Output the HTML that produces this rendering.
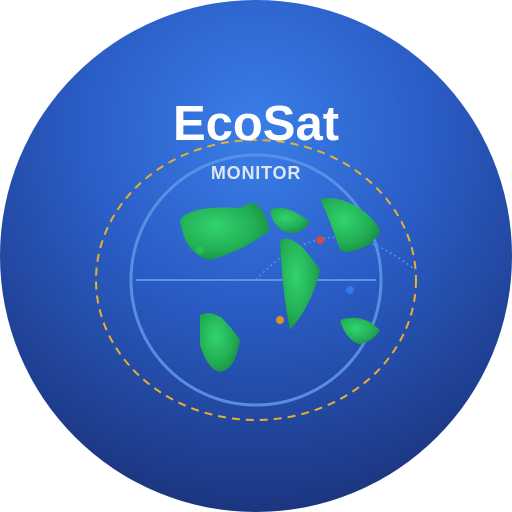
<!DOCTYPE html>
<html><head><style>html,body{margin:0;padding:0;background:#fff}svg{display:block}</style></head>
<body>
<svg width="512" height="512" viewBox="0 0 512 512" xmlns="http://www.w3.org/2000/svg">
<defs>
<radialGradient id="bg" cx="256" cy="130" r="400" gradientUnits="userSpaceOnUse">
<stop offset="0" stop-color="#3a7ee8"/>
<stop offset="0.45" stop-color="#2a5cc4"/>
<stop offset="1" stop-color="#1a327a"/>
</radialGradient>
<radialGradient id="gl" cx="256" cy="170" r="150" gradientUnits="userSpaceOnUse">
<stop offset="0" stop-color="#3a7ee8" stop-opacity="0.5"/>
<stop offset="1" stop-color="#2a5ac0" stop-opacity="0"/>
</radialGradient>
<radialGradient id="land" cx="0.4" cy="0.4" r="0.7">
<stop offset="0" stop-color="#33d36e"/>
<stop offset="0.6" stop-color="#22b055"/>
<stop offset="1" stop-color="#178a40"/>
</radialGradient>
</defs>
<circle cx="256" cy="256" r="256" fill="url(#bg)"/>
<circle cx="256" cy="280" r="125" fill="url(#gl)" stroke="#5a92e6" stroke-width="3" opacity="0.95"/>
<ellipse cx="256" cy="280" rx="160" ry="140" fill="none" stroke="#e6b030" stroke-width="2" stroke-dasharray="8 6"/>
<line x1="136" y1="280" x2="376" y2="280" stroke="#5a92e6" stroke-width="2"/>
<path d="M256 280 Q330 200 415 270" fill="none" stroke="#5a92e6" stroke-width="1.5" stroke-dasharray="2 3"/>
<g fill="url(#land)">
<path d="M180 220 Q190 205 240 208 Q248 202 256 204 Q265 210 270 230 Q245 250 210 260 Q185 255 180 220Z"/>
<path d="M270 210 Q285 202 310 222 Q300 236 285 232 Q272 225 270 210Z"/>
<path d="M320 199 Q340 195 362 210 Q378 222 380 232 Q370 250 345 252 L340 250 Q330 220 320 199Z"/>
<path d="M280 240 Q290 235 303 248 Q315 262 320 270 Q312 305 290 330 Q282 290 280 240Z"/>
<path d="M200 315 Q210 310 222 318 Q235 332 240 340 Q235 370 220 372 Q208 370 200 345Z"/>
<path d="M340 320 Q355 315 370 322 L380 330 Q372 343 358 344 Q345 338 340 320Z"/>
</g>
<circle cx="200" cy="250" r="4" fill="#22c05a"/>
<circle cx="320" cy="240" r="4" fill="#d04a50"/>
<circle cx="350" cy="290" r="4" fill="#2f7ae8"/>
<circle cx="280" cy="320" r="4" fill="#d8902a"/>
<text x="256" y="140" text-anchor="middle" font-family="Liberation Sans, sans-serif" font-weight="bold" font-size="49" fill="#fff">EcoSat</text>
<text x="256" y="179" text-anchor="middle" font-family="Liberation Sans, sans-serif" font-weight="bold" font-size="18" letter-spacing="0.8" fill="#dde6f5">MONITOR</text>
</svg>
</body></html>
